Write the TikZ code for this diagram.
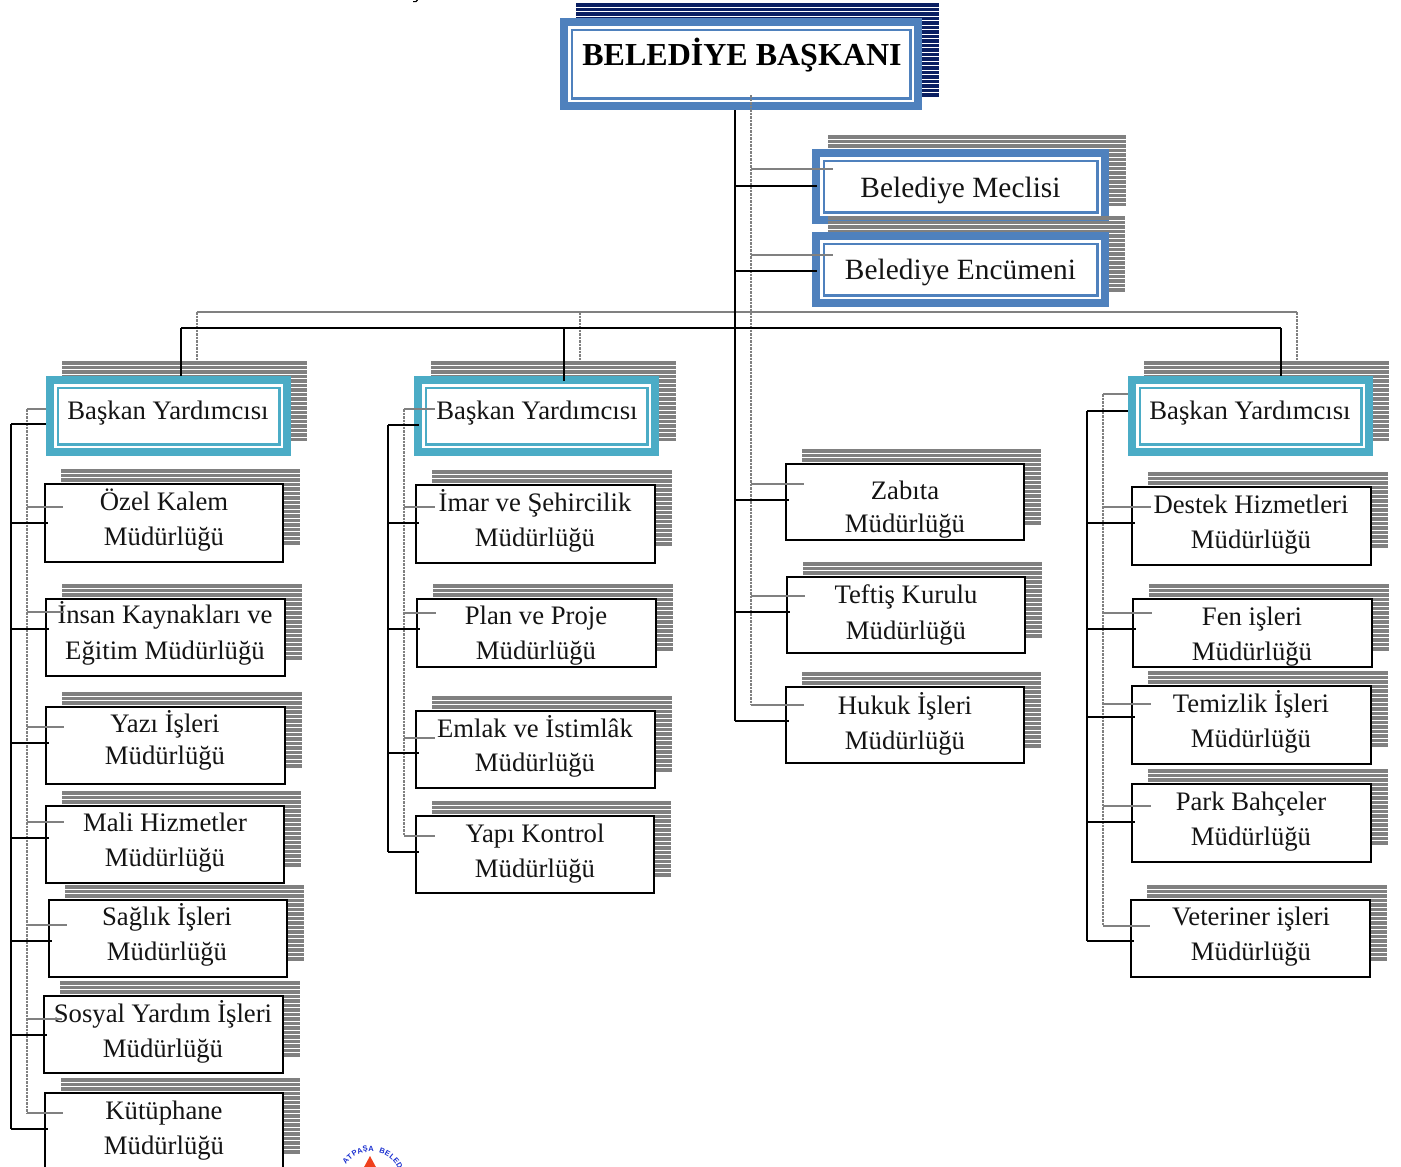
\documentclass[tikz,border=0pt]{standalone}
\usepackage{fontspec}
\setmainfont{Liberation Serif}
\newfontfamily\logofont{Liberation Sans}
\definecolor{navyS}{HTML}{0A1F62}
\definecolor{greyS}{HTML}{808080}
\definecolor{blueB}{HTML}{4F81BD}
\definecolor{tealB}{HTML}{4BACC6}
\definecolor{logoB}{HTML}{1A2FD0}
\definecolor{logoR}{HTML}{F0401C}
\tikzset{
  plainbox/.style={draw=black,line width=2pt,fill=white,inner sep=0pt,outer sep=0pt},
  framebox/.style={fill=#1,inner sep=0pt,outer sep=0pt},
  lbl/.style={anchor=base,inner sep=0pt,font=\fontsize{26.7}{28}\selectfont,text=black!92},
  biglbl/.style={anchor=base,inner sep=0pt,font=\fontsize{29.4}{30}\selectfont,text=black!92},
  bosslbl/.style={anchor=base,inner sep=0pt,font=\fontsize{32}{34}\selectfont\bfseries,text=black},
  blk/.style={draw=black,line width=2pt},
  gry/.style={draw=greyS,line width=1.2pt},
  gryd/.style={draw=greyS,line width=1.6pt,dash pattern=on 2.5pt off 1pt},
}
% striped shadow: x0 y0 x1 y1 colour
\newcommand{\stripes}[5]{%
  \pgfmathtruncatemacro{\nst}{((#4)-(#2)-2)/4.5}%
  \foreach \i in {0,...,\nst}{\fill[#5] (#1,{#2+\i*4.5}) rectangle (#3,{#2+\i*4.5+3.5});}%
}
% plain box: name x0 y0 x1 y1
\newcommand{\bx}[5]{%
  \stripes{#2+16}{#3-15}{#4+17}{#5-16}{greyS}%
  \node[plainbox,minimum width={(#4-#2)*1pt},minimum height={(#5-#3)*1pt}] (#1) at ({(#2+#4)/2},{(#3+#5)/2}) {};%
}
% framed box: name x0 y0 x1 y1 colour
\newcommand{\fr}[6]{%
  \node[framebox=#6,minimum width={(#4-#2)*1pt},minimum height={(#5-#3)*1pt}] (#1) at ({(#2+#4)/2},{(#3+#5)/2}) {};%
  \fill[white] ({#2+8},{#3+8}) rectangle ({#4-8},{#5-8});%
  \fill[#6] ({#2+10.5},{#3+10.5}) rectangle ({#4-10.5},{#5-10.5});%
  \fill[white] ({#2+13},{#3+13}) rectangle ({#4-13},{#5-13});%
}
% two-line label
\newcommand{\two}[6]{%
  \node[lbl] (#1a) at (#2,#3) {#5};%
  \node[lbl] (#1b) at (#2,#4) {#6};%
}
% branch from a spine to a node: style spine node y overshoot
\newcommand{\tap}[5]{%
  \coordinate (#3-#1) at (0,#4);%
  \draw[#1] (#2 |- #3-#1) -- (#3.west |- #3-#1) -- ++(#5,0);%
}
\begin{document}
\begin{tikzpicture}[x=1pt,y=-1pt]
\useasboundingbox (0,0) rectangle (1401,1167);
\clip (0,0) rectangle (1401,1167);
\fill[white] (0,0) rectangle (1401,1167);

% fragment at the top edge
\draw[black,line width=1.2pt] (413,1.6) -- (416,1.6) -- (417.5,0);

% head
\stripes{576}{3}{939}{95}{navyS}
\fr{boss}{560}{18}{922}{110}{blueB}
\node[bosslbl] (bossT) at (742,65.5) {BELEDİYE BAŞKANI};

\stripes{828}{135}{1126}{208}{greyS}
\fr{meclis}{812}{149}{1109}{224}{blueB}
\stripes{828}{216}{1125}{290}{greyS}
\fr{encumen}{812}{232}{1109}{307}{blueB}
\node[biglbl] (meclisT) at (960.5,197) {Belediye Meclisi};
\node[biglbl] (encumenT) at (960.5,279) {Belediye Encümeni};

% deputies
\stripes{62}{361}{307}{440}{greyS}
\fr{byA}{46}{376}{291}{456}{tealB}
\node[lbl] (byAT) at (168,419) {Başkan Yardımcısı};
\stripes{431}{361}{676}{440}{greyS}
\fr{byB}{414}{376}{659}{456}{tealB}
\node[lbl] (byBT) at (537,419) {Başkan Yardımcısı};
\stripes{1144}{361}{1389}{440}{greyS}
\fr{byC}{1128}{376}{1373}{456}{tealB}
\node[lbl] (byCT) at (1250,419) {Başkan Yardımcısı};

% column 1
\bx{ozel}{45}{484}{283}{562}
\two{ozelT}{164}{510}{545}{Özel Kalem}{Müdürlüğü}
\bx{insan}{46}{599}{285}{676}
\two{insanT}{165}{623}{659}{İnsan Kaynakları ve}{Eğitim Müdürlüğü}
\bx{yazi}{46}{707}{285}{784}
\two{yaziT}{165}{732}{764}{Yazı İşleri}{Müdürlüğü}
\bx{mali}{46}{806}{284}{883}
\two{maliT}{165}{831}{866}{Mali Hizmetler}{Müdürlüğü}
\bx{saglik}{49}{900}{287}{977}
\two{saglikT}{167}{925}{960}{Sağlık İşleri}{Müdürlüğü}
\bx{sosyal}{44}{996}{283}{1073}
\two{sosyalT}{163}{1022}{1057}{Sosyal Yardım İşleri}{Müdürlüğü}
\bx{kutup}{45}{1093}{283}{1171}
\two{kutupT}{164}{1119}{1154}{Kütüphane}{Müdürlüğü}

% column 2
\bx{imar}{416}{485}{655}{563}
\two{imarT}{535}{511}{546}{İmar ve Şehircilik}{Müdürlüğü}
\bx{plan}{417}{599}{656}{667}
\two{planT}{536}{624}{659}{Plan ve Proje}{Müdürlüğü}
\bx{emlak}{416}{711}{655}{788}
\two{emlakT}{535}{737}{771}{Emlak ve İstimlâk}{Müdürlüğü}
\bx{yapi}{416}{816}{654}{893}
\two{yapiT}{535}{842}{877}{Yapı Kontrol}{Müdürlüğü}

% column 3
\bx{zabita}{786}{464}{1024}{540}
\two{zabitaT}{905}{499}{532}{Zabıta}{Müdürlüğü}
\bx{teftis}{787}{577}{1025}{653}
\two{teftisT}{906}{603}{639}{Teftiş Kurulu}{Müdürlüğü}
\bx{hukuk}{786}{687}{1024}{763}
\two{hukukT}{905}{714}{749}{Hukuk İşleri}{Müdürlüğü}

% column 4
\bx{destek}{1132}{487}{1371}{565}
\two{destekT}{1251}{513}{548}{Destek Hizmetleri}{Müdürlüğü}
\bx{fen}{1133}{599}{1372}{667}
\two{fenT}{1252}{625}{660}{Fen işleri}{Müdürlüğü}
\bx{temiz}{1132}{686}{1371}{764}
\two{temizT}{1251}{712}{747}{Temizlik İşleri}{Müdürlüğü}
\bx{park}{1132}{784}{1371}{862}
\two{parkT}{1251}{810}{845}{Park Bahçeler}{Müdürlüğü}
\bx{veter}{1131}{900}{1370}{977}
\two{veterT}{1251}{925}{960}{Veteriner işleri}{Müdürlüğü}

% spines
\coordinate (trunk) at (735,110);
\coordinate (dtrunk) at (751,95);
\coordinate (sA) at (11,424);
\coordinate (dA) at (27,409);
\coordinate (sB) at (388,425);
\coordinate (dB) at (404,409);
\coordinate (sC) at (1087,411);
\coordinate (dC) at (1103,394);
\coordinate (busL) at (181,328);
\coordinate (busR) at (1281,328);
\coordinate (dbusL) at (197,312);
\coordinate (dbusR) at (1297,312);
\coordinate (dropB) at (564,328);
\coordinate (ddropB) at (580,312);

% grey network
\draw[gryd] (dtrunk) -- (dtrunk |- 0,705);
\foreach \n/\y in {meclis/169,encumen/255}{\tap{gry}{dtrunk}{\n}{\y}{21}}
\foreach \n/\y in {zabita/484,teftis/596,hukuk/705}{\tap{gry}{dtrunk}{\n}{\y}{18}}
\draw[gry] (dbusL) -- (dbusR);
\draw[gryd] (dbusL) -- (dbusL |- 0,361);
\draw[gryd] (ddropB) -- (ddropB |- 0,361);
\draw[gryd] (dbusR) -- (dbusR |- 0,361);

\tap{gry}{dA}{byA}{409}{0}
\draw[gryd] (dA) -- (dA |- 0,1113);
\foreach \n/\y in {ozel/507,insan/612,yazi/727,mali/822,saglik/925,sosyal/1019,kutup/1113}{\tap{gry}{dA}{\n}{\y}{18}}
\tap{gry}{dB}{byB}{409}{21}
\draw[gryd] (dB) -- (dB |- 0,836);
\foreach \n/\y in {imar/507,plan/613,emlak/738,yapi/836}{\tap{gry}{dB}{\n}{\y}{19}}
\tap{gry}{dC}{byC}{394}{0}
\draw[gryd] (dC) -- (dC |- 0,926);
\foreach \n/\y in {destek/507,fen/613,temiz/704,park/806,veter/926}{\tap{gry}{dC}{\n}{\y}{19}}

% black network
\draw[blk] (trunk) -- (trunk |- 0,721);
\foreach \n/\y in {meclis/186,encumen/271}{\tap{blk}{trunk}{\n}{\y}{5}}
\foreach \n/\y in {zabita/500,teftis/612,hukuk/721}{\tap{blk}{trunk}{\n}{\y}{3}}
\draw[blk] (busL) -- (busR);
\draw[blk] (busL) -- (busL |- byA.north);
\draw[blk] (dropB) -- (dropB |- 0,381);
\draw[blk] (busR) -- (busR |- byC.north);

\tap{blk}{sA}{byA}{424}{0}
\draw[blk] (sA) -- (sA |- 0,1129);
\foreach \n/\y in {ozel/523,insan/629,yazi/743,mali/838,saglik/941,sosyal/1035,kutup/1129}{\tap{blk}{sA}{\n}{\y}{3}}
\tap{blk}{sB}{byB}{425}{5}
\draw[blk] (sB) -- (sB |- 0,852);
\foreach \n/\y in {imar/523,plan/629,emlak/753,yapi/852}{\tap{blk}{sB}{\n}{\y}{3}}
\tap{blk}{sC}{byC}{411}{0}
\draw[blk] (sC) -- (sC |- 0,941);
\foreach \n/\y in {destek/523,fen/629,temiz/717,park/822,veter/941}{\tap{blk}{sC}{\n}{\y}{3}}

% logo, cut by the page edge
\fill[logoR] (370,1156) -- (356,1182) -- (384,1182) -- cycle;
\foreach \c [count=\k from 0] in {A,T,P,A,Ş,A,{},B,E,L,E,D}{%
  \pgfmathsetmacro{\ang}{-50+\k*10}%
  \node[inner sep=0pt,text=logoB,font=\logofont\bfseries\fontsize{7.5}{8}\selectfont,rotate=-\ang] (logo\k) at ({371+33*sin(\ang)},{1182-33*cos(\ang)}) {\c};
}
\end{tikzpicture}
\end{document}
